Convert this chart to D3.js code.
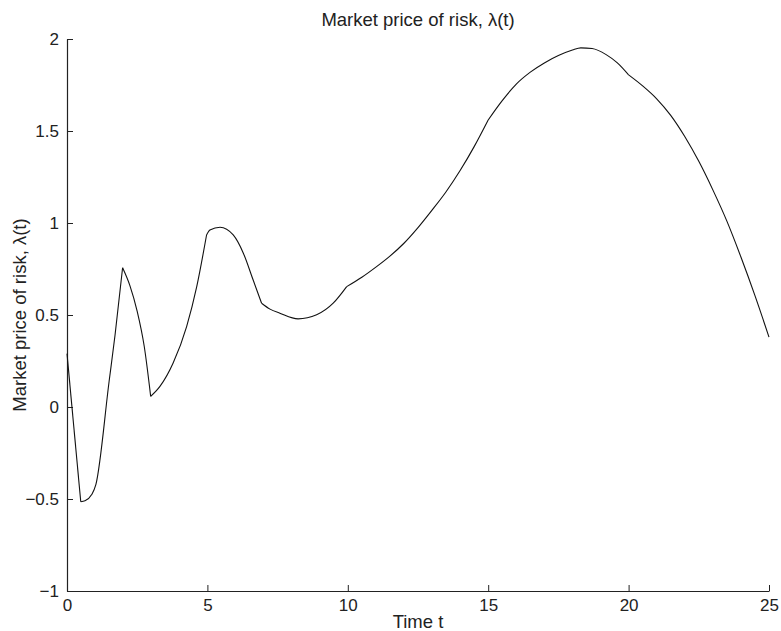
<!DOCTYPE html>
<html>
<head>
<meta charset="utf-8">
<script src="https://cdn.jsdelivr.net/npm/d3@7"></script>
<style>
  body { margin: 0; background: #fff; }
  svg { display: block; font-family: "Liberation Sans", Arial, Helvetica, sans-serif; }
</style>
</head>
<body>
<svg id="chart" width="781" height="631"></svg>
<script>
// time points and lambda(t) values
const times = [0, 0.49, 0.64, 0.88, 1.03, 1.5, 1.71, 1.98,
  2.24, 2.5, 2.75, 2.98,
  3.31, 3.78, 4.26, 4.62, 4.97,
  5.09, 5.45, 5.92, 6.28, 6.63, 6.93,
  7.23, 7.58, 8.23, 8.89, 9.48, 9.96,
  10.5, 11, 11.5, 12, 12.5, 13, 13.5, 14, 14.5, 15.0,
  15.5, 16, 16.5, 17, 17.5, 18, 18.3, 18.7, 19.2, 19.6, 20.0,
  20.5, 21, 21.5, 22, 22.5, 23, 23.5, 24, 24.5, 25];
const lambda = [0.29, -0.515, -0.51, -0.476, -0.42, 0.14, 0.39, 0.757,
  0.66, 0.52, 0.33, 0.058,
  0.112, 0.239, 0.437, 0.654, 0.935,
  0.962, 0.977, 0.935, 0.836, 0.69, 0.564,
  0.532, 0.51, 0.479, 0.501, 0.564, 0.654,
  0.705, 0.76, 0.82, 0.89, 0.975, 1.07, 1.17, 1.285, 1.415, 1.56,
  1.665, 1.755, 1.82, 1.87, 1.91, 1.94, 1.952, 1.948, 1.915, 1.87, 1.805,
  1.745, 1.675, 1.585, 1.47, 1.335, 1.18, 1.01, 0.815, 0.605, 0.38];

// times where the curve has a corner
const kinks = [0.49, 1.98, 2.98, 4.97, 6.93, 9.96, 15, 20];

const xTicks = [0, 5, 10, 15, 20, 25];
const yTicks = [-1, -0.5, 0, 0.5, 1, 1.5, 2];

const title = 'Market price of risk, \u03bb(t)';
const xLabel = 'Time t';
const yLabel = 'Market price of risk, \u03bb(t)';

const margin = { top: 39, right: 12, bottom: 40, left: 67 };
const width = 781, height = 631;

const svg = d3.select('#chart');

const x = d3.scaleLinear().domain([0, 25]).range([margin.left, width - margin.right]);
const y = d3.scaleLinear().domain([-1, 2]).range([height - margin.bottom, margin.top]);

const data = times.map((t, i) => ({ t, v: lambda[i] }));

// split into smooth pieces between the corners
const bounds = [0, ...kinks, 25];
const pieces = d3.pairs(bounds).map(([a, b]) => data.filter(d => d.t >= a && d.t <= b));

// axes (left and bottom only, ticks pointing inward)
const xAxis = svg.append('g')
  .attr('transform', `translate(0,${y(-1)})`)
  .call(d3.axisBottom(x).tickValues(xTicks).tickFormat(d3.format('d'))
    .tickSizeInner(-6).tickSizeOuter(0).tickPadding(8));

const yAxis = svg.append('g')
  .attr('transform', `translate(${x(0)},0)`)
  .call(d3.axisLeft(y).tickValues(yTicks)
    .tickFormat(d => d3.format('')(d).replace('-', '\u2212'))
    .tickSizeInner(-6).tickSizeOuter(0).tickPadding(8));

[xAxis, yAxis].forEach(g => {
  g.select('.domain').attr('stroke', '#222').attr('stroke-width', 1.2);
  g.selectAll('.tick line').attr('stroke', '#222');
  g.selectAll('.tick text').attr('fill', '#222').style('font-size', '17px');
});

// the curve
const line = d3.line()
  .x(d => x(d.t))
  .y(d => y(d.v))
  .curve(d3.curveMonotoneX);

svg.append('g')
  .selectAll('path')
  .data(pieces)
  .join('path')
  .attr('fill', 'none')
  .attr('stroke', '#111')
  .attr('stroke-width', 1.1)
  .attr('stroke-linejoin', 'round')
  .attr('d', line);

// title and axis labels
svg.append('text')
  .attr('x', (x(0) + x(25)) / 2)
  .attr('y', 26)
  .attr('text-anchor', 'middle')
  .style('font-size', '18.5px')
  .attr('fill', '#222')
  .text(title);

svg.append('text')
  .attr('x', (x(0) + x(25)) / 2)
  .attr('y', 628)
  .attr('text-anchor', 'middle')
  .style('font-size', '18.5px')
  .attr('fill', '#222')
  .text(xLabel);

svg.append('text')
  .attr('transform', `translate(26,${(y(-1) + y(2)) / 2}) rotate(-90)`)
  .attr('text-anchor', 'middle')
  .style('font-size', '18.5px')
  .attr('fill', '#222')
  .text(yLabel);
</script>
</body>
</html>
